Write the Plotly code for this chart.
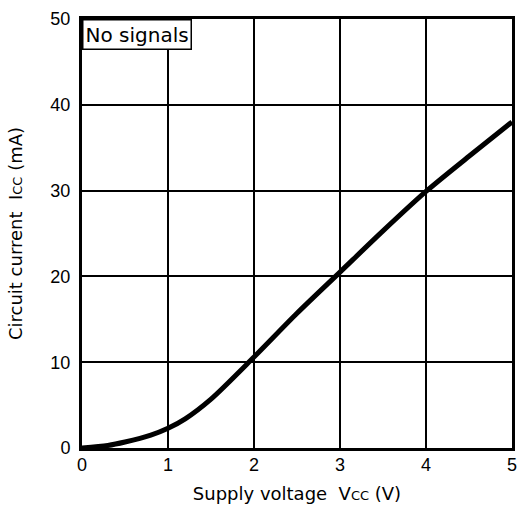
import plotly.graph_objects as go

# Supply voltage (V) vs circuit current (mA)
vcc = [0, 0.3, 0.5, 0.8, 1.0, 1.2, 1.5, 2.0, 2.5, 3.0, 3.5, 4.0, 4.5, 5.0]
icc = [0, 0.3, 0.7, 1.5, 2.3, 3.4, 5.7, 10.6, 15.7, 20.5, 25.3, 29.9, 34.0, 38.0]

x_ticks = [0, 1, 2, 3, 4, 5]
y_ticks = [0, 10, 20, 30, 40, 50]

TEXT_FONT = "DejaVu Sans, Arial, sans-serif"
TICK_FONT = "Liberation Sans, Arial, sans-serif"

fig = go.Figure()

fig.add_trace(go.Scatter(
    x=vcc,
    y=icc,
    mode='lines',
    line=dict(color='black', width=5, shape='spline', smoothing=0.8),
    showlegend=False,
    hoverinfo='skip'
))

# Label box in the top-left corner of the plot
fig.add_annotation(
    text="No signals",
    xref="paper", yref="paper",
    x=0, y=1,
    xanchor="left", yanchor="top",
    showarrow=False,
    font=dict(family=TEXT_FONT, size=20, color="black"),
    bgcolor="white",
    bordercolor="black",
    borderwidth=1.5,
    borderpad=2
)

axis_common = dict(
    showgrid=True,
    gridcolor='black',
    gridwidth=1.5,
    showline=True,
    linecolor='black',
    linewidth=3,
    mirror=True,
    ticks='',
    zeroline=False,
    automargin=False,
    tickfont=dict(family=TICK_FONT, size=18, color='black'),
)

fig.update_xaxes(
    range=[0, 5],
    tickvals=x_ticks,
    ticklabelstandoff=-2,
    title=dict(text="Supply voltage  V<span style='font-size:13px'>CC</span> (V)",
               font=dict(family=TEXT_FONT, size=18, color='black'), standoff=14),
    **axis_common
)
fig.update_yaxes(
    range=[0, 50],
    tickvals=y_ticks,
    ticklabelstandoff=5,
    title=dict(text="Circuit current  I<span style='font-size:13px'>CC</span> (mA)",
               font=dict(family=TEXT_FONT, size=18, color='black'), standoff=24),
    **axis_common
)

fig.update_layout(
    width=520,
    height=513,
    margin=dict(l=82, r=8, t=19, b=65),
    plot_bgcolor='white',
    paper_bgcolor='white',
)

# drop the default 8px body margin so the figure fills the window exactly
fig.write_html(
    "out.html",
    config={"displayModeBar": False},
    post_script="document.body.style.margin='0px';"
)
